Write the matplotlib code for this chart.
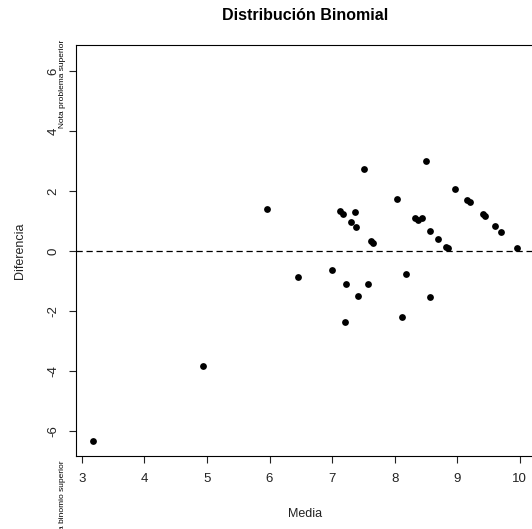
import matplotlib
matplotlib.use("Agg")
import matplotlib.pyplot as plt

plt.rcParams['font.family'] = ['Liberation Sans', 'DejaVu Sans']

media = [3.18, 4.93, 5.96, 6.45, 7.00, 7.13, 7.18, 7.20, 7.22, 7.31, 7.36, 7.39,
         7.41, 7.51, 7.58, 7.63, 7.65, 8.04, 8.12, 8.18, 8.33, 8.38, 8.44, 8.50,
         8.57, 8.57, 8.70, 8.82, 8.86, 8.96, 9.16, 9.21, 9.42, 9.44, 9.60, 9.71, 9.96]
diferencia = [-6.32, -3.82, 1.40, -0.88, -0.64, 1.34, 1.23, -2.37, -1.10, 0.97, 1.30, 0.81,
              -1.48, 2.74, -1.10, 0.34, 0.28, 1.74, -2.21, -0.77, 1.11, 1.03, 1.11, 3.01,
              0.67, -1.54, 0.40, 0.14, 0.11, 2.08, 1.71, 1.62, 1.22, 1.18, 0.84, 0.62, 0.10]
xticks = [3, 4, 5, 6, 7, 8, 9, 10]
yticks = [-6, -4, -2, 0, 2, 4, 6]

W, H = 532, 529
fig = plt.figure(figsize=(W / 100, H / 100), dpi=100)
L, R, T, B = 76, 534, 45, 456
ax = fig.add_axes([L / W, 1 - B / H, (R - L) / W, (B - T) / H])

ax.scatter(media, diferencia, s=24, color='black', zorder=3, linewidths=0)
ax.axhline(0, color='black', linestyle=(0, (5, 3)), linewidth=0.9)

ax.set_xlim(2.905, 10.23)
ax.set_ylim(-6.83, 6.87)
ax.set_xticks(xticks)
ax.set_yticks(yticks)
ax.set_xticklabels([str(v) for v in xticks])
ax.set_yticklabels([str(v) for v in yticks], rotation=90, va='center')
ax.tick_params(axis='both', length=5, width=0.8, labelsize=9.5, colors='#222222')
ax.tick_params(axis='x', pad=7)
ax.tick_params(axis='y', pad=7)
for s in ax.spines.values():
    s.set_linewidth(0.8)
ax.spines['right'].set_visible(False)

fig.text(305 / W, 1 - 15 / H, 'Distribución Binomial', ha='center', va='center',
         fontsize=11.5, fontweight='bold')
fig.text(305 / W, 1 - 514 / H, 'Media', ha='center', va='center', fontsize=9, color='#222222')
fig.text(20 / W, 1 - 251 / H, 'Diferencia', ha='center', va='center', rotation=90,
         fontsize=9, color='#222222')
fig.text(62 / W, 1 - 40 / H, 'Nota problema superior', ha='center', va='top', rotation=90,
         fontsize=6)
fig.text(62 / W, 1 - 460 / H, 'Nota binomio superior', ha='center', va='top', rotation=90,
         fontsize=6)

fig.savefig('out.png', dpi=100)
